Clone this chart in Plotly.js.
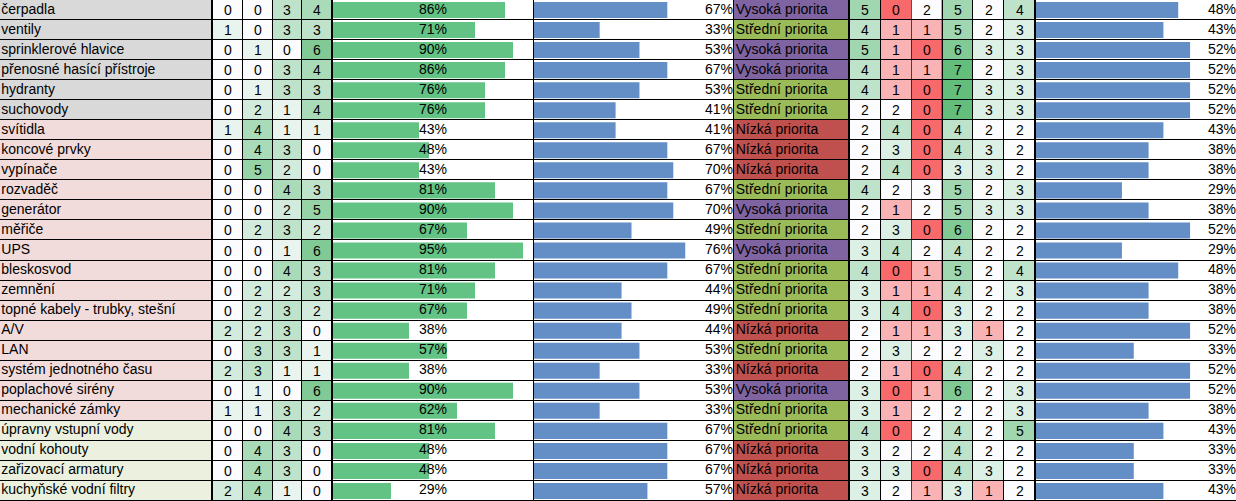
<!DOCTYPE html>
<html><head><meta charset="utf-8">
<script src="https://cdn.plot.ly/plotly-3.0.1.min.js"></script>
<style>html,body{margin:0;padding:0;background:#fff;overflow:hidden}#chart{width:1236px;height:501px}</style>
</head><body><div id="chart"></div>
<script>
// ---------- data ----------
const items = ["čerpadla","ventily","sprinklerové hlavice","přenosné hasící přístroje","hydranty","suchovody",
  "svítidla","koncové prvky","vypínače","rozvaděč","generátor","měřiče","UPS","bleskosvod","zemnění",
  "topné kabely - trubky, stešní","A/V","LAN","systém jednotného času","poplachové sirény","mechanické zámky",
  "úpravny vstupní vody","vodní kohouty","zařizovací armatury","kuchyňské vodní filtry"];
// 0 = hasicí (grey), 1 = elektro (pink), 2 = voda (light green)
const groups = [0,0,0,0,0,0, 1,1,1,1,1,1,1,1,1,1,1,1,1,1,1, 2,2,2,2];

const left1 = [0,1,0,0,0,0,1,0,0,0,0,0,0,0,0,0,2,0,2,0,1,0,0,0,2];
const left2 = [0,0,1,0,1,2,4,4,5,0,0,2,0,0,2,2,2,3,3,1,1,0,4,4,4];
const left3 = [3,3,0,3,3,1,1,3,2,4,2,3,1,4,2,3,3,3,1,0,3,4,3,3,1];
const left4 = [4,3,6,4,3,4,1,0,0,3,5,2,6,3,3,2,0,1,1,6,2,3,0,0,0];

const score1 = [86,71,90,86,76,76,43,48,43,81,90,67,95,81,71,67,38,57,38,90,62,81,48,48,29];
const score2 = [67,33,53,67,53,41,41,67,70,67,70,49,76,67,44,49,44,53,33,53,33,67,67,67,57];

const priorityLabels = ["Nízká priorita","Střední priorita","Vysoká priorita"];
const priority = [2,1,2,2,1,1,0,0,0,1,2,1,2,1,1,1,0,1,0,2,1,1,0,0,0];

const right1 = [5,4,5,4,4,2,2,2,2,4,2,2,3,4,3,3,2,2,2,3,3,4,3,3,3];
const right2 = [0,1,1,1,1,2,4,3,4,2,1,3,4,0,1,4,1,3,1,0,1,0,2,3,2];
const right3 = [2,1,0,1,0,0,0,0,0,3,2,0,2,1,1,0,1,2,0,1,2,2,2,0,1];
const right4 = [5,5,6,7,7,7,4,4,3,5,5,6,4,5,4,3,3,2,4,6,2,4,4,4,3];
const right5 = [2,2,3,2,3,3,2,3,3,2,3,2,2,2,2,2,1,3,2,2,2,2,2,3,1];
const right6 = [4,3,3,3,3,3,2,2,2,3,3,2,2,4,3,2,2,2,2,3,3,5,2,2,2];

const score3 = [48,43,52,52,52,52,43,38,38,29,38,52,29,48,38,38,52,33,52,52,38,43,33,33,43];

// ---------- styling ----------
const FONT = "Liberation Sans, Arial, sans-serif";
const FS = 14;
const W = 1236;
const rows = items.map((_, i) => i);
const byRow = cols => rows.map(i => cols.map(c => c === null ? null : c[i]));
const pct = a => a.map(v => v + "%");
const col = (a, b) => [a / W, b / W];
const numFont = {family:FONT,size:FS,color:"#000"};

const traces = [];
// name column
traces.push({type:"heatmap", xaxis:"x", yaxis:"y", x:[0,1], y:rows, z:groups.map(g=>[g]),
  zmin:0, zmax:2, colorscale:[[0,"#D9D9D9"],[0.5,"#F2DCDB"],[1,"#EBF1DE"]],
  showscale:false, ygap:1, hoverinfo:"skip"});
traces.push({type:"scatter", mode:"text", xaxis:"x", yaxis:"y", x:rows.map(()=>0.006), y:rows,
  text:items, textposition:"middle right", textfont:numFont, hoverinfo:"skip"});

// left numbers
traces.push({type:"heatmap", xaxis:"x2", yaxis:"y", x:[0,1,2,3], y:rows, z:byRow([left1,left2,left3,left4]),
  zmin:0, zmax:7.5, colorscale:[[0,"#FCFCFF"],[1,"#63BE7B"]], showscale:false, xgap:1, ygap:1,
  texttemplate:"%{z}", textfont:numFont, hoverinfo:"skip"});

// bar column helper
function barColumn(axis, values, color, range, textX, textPos) {
  traces.push({type:"heatmap", xaxis:axis, yaxis:"y", x:range, y:rows, z:rows.map(()=>[0]),
    zmin:0, zmax:1, colorscale:[[0,"#FFFFFF"],[1,"#FFFFFF"]], showscale:false, ygap:1, hoverinfo:"skip"});
  traces.push({type:"bar", orientation:"h", xaxis:axis, yaxis:"y", x:values, y:rows, width:0.8,
    marker:{color:color, line:{width:0}}, hoverinfo:"skip"});
  traces.push({type:"scatter", mode:"text", xaxis:axis, yaxis:"y", x:rows.map(()=>textX), y:rows,
    text:pct(values), textposition:textPos, textfont:numFont, hoverinfo:"skip"});
}
barColumn("x3", score1, "#63C384", [0,100], 50, "middle center");
barColumn("x4", score2, "#638EC6", [0,100], 100, "middle left");

// priority
traces.push({type:"heatmap", xaxis:"x5", yaxis:"y", x:[0,1], y:rows, z:priority.map(p=>[p]),
  zmin:0, zmax:2, colorscale:[[0,"#C0504D"],[0.5,"#9BBB59"],[1,"#8064A2"]],
  showscale:false, ygap:1, hoverinfo:"skip"});
traces.push({type:"scatter", mode:"text", xaxis:"x5", yaxis:"y", x:rows.map(()=>0.015), y:rows,
  text:priority.map(p=>priorityLabels[p]), textposition:"middle right", textfont:numFont, hoverinfo:"skip"});

// right numbers (3-colour scale red-white-green); third column uses its own red-white scale
traces.push({type:"heatmap", xaxis:"x6", yaxis:"y", x:[0,1,2,3,4,5], y:rows,
  z:byRow([right1,right2,null,right4,right5,right6]),
  zmin:0, zmax:7, colorscale:[[0,"#F8696B"],[2/7,"#FCFCFF"],[1,"#63BE7B"]], showscale:false, xgap:1, ygap:1,
  texttemplate:"%{z}", textfont:numFont, hoverinfo:"skip"});
traces.push({type:"heatmap", xaxis:"x6", yaxis:"y", x:[2], y:rows, z:right3.map(v=>[v]),
  zmin:0, zmax:2, colorscale:[[0,"#F8696B"],[1,"#FCFCFF"]], showscale:false, xgap:1, ygap:1,
  texttemplate:"%{z}", textfont:numFont, hoverinfo:"skip"});

// last bar column
barColumn("x7", score3, "#638EC6", [0,67.5], 67.5, "middle left");

const hidden = {visible:false, fixedrange:true};
const layout = {
  width:W, height:501, margin:{l:0,r:0,t:0,b:0,pad:0},
  paper_bgcolor:"#000", plot_bgcolor:"#000", showlegend:false, barmode:"overlay",
  yaxis:Object.assign({range:[24.5,-0.5], domain:[0,1]}, hidden),
  xaxis: Object.assign({domain:col(0,211), range:[0,1], anchor:"y"}, hidden),
  xaxis2:Object.assign({domain:col(213,332), range:[-0.5,3.5], anchor:"y"}, hidden),
  xaxis3:Object.assign({domain:col(333,533), range:[0,100], anchor:"y"}, hidden),
  xaxis4:Object.assign({domain:col(534,733), range:[0,100], anchor:"y"}, hidden),
  xaxis5:Object.assign({domain:col(734,848), range:[0,1], anchor:"y"}, hidden),
  xaxis6:Object.assign({domain:col(850,1035), range:[-0.5,5.5], anchor:"y"}, hidden),
  xaxis7:Object.assign({domain:col(1036,1236), range:[0,67.5], anchor:"y"}, hidden)
};
Plotly.newPlot("chart", traces, layout, {staticPlot:true, displayModeBar:false});
</script>
</body></html>
